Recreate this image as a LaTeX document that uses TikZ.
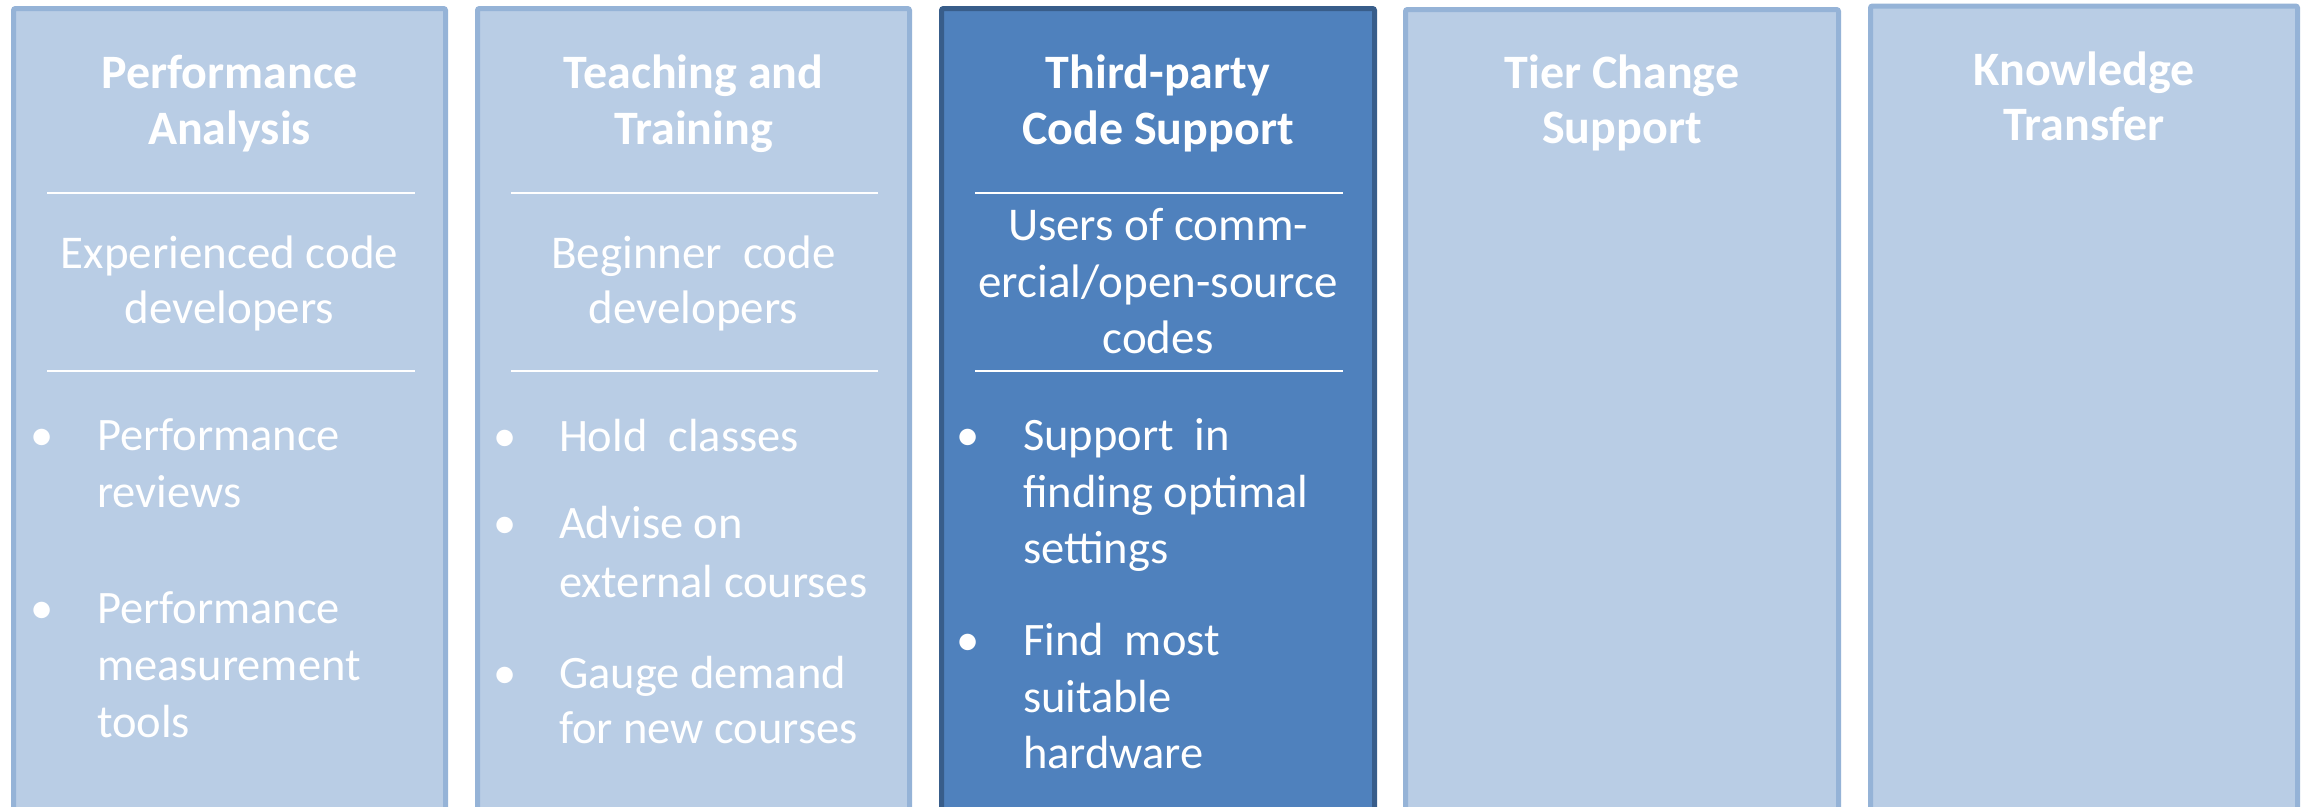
\documentclass[tikz,border=0pt]{standalone}
\usepackage{fontspec}
\setmainfont{Carlito}
\begin{document}
\begin{tikzpicture}[x=1pt,y=-1pt]
\definecolor{fillColor}{RGB}{255,255,255}
\definecolor{paleFill}{RGB}{185,205,229}
\definecolor{paleDraw}{RGB}{149,179,215}
\definecolor{deepFill}{RGB}{79,129,189}
\definecolor{deepDraw}{RGB}{56,93,138}
\tikzset{
  column/.style={line width=5pt,rounded corners=2pt},
  heading/.style={text=white,anchor=base,inner sep=0pt,outer sep=0pt,font=\fontsize{48}{56}\selectfont\bfseries},
  audience/.style={text=white,anchor=base,inner sep=0pt,outer sep=0pt,font=\fontsize{47}{56}\selectfont},
  item/.style={text=white,anchor=base west,inner sep=0pt,outer sep=0pt,font=\fontsize{46.5}{56}\selectfont},
  dot/.style={item,anchor=base},
  rule/.style={draw=white,line width=2.5pt}
}
\path[use as bounding box,fill=fillColor] (0,0) rectangle (2305,806);
\begin{scope}
\path[clip] (0,0) rectangle (2305,806);

% columns
\path[draw=paleDraw,fill=paleFill,column] (  13.5,  8.5) rectangle ( 445.5,840);
\path[draw=paleDraw,fill=paleFill,column] ( 477.5,  8.5) rectangle ( 909.5,840);
\path[draw=deepDraw,fill=deepFill,column] ( 941.5,  8.5) rectangle (1374.5,840);
\path[draw=paleDraw,fill=paleFill,column] (1405.5,  9.5) rectangle (1838.5,840);
\path[draw=paleDraw,fill=paleFill,column] (1870.5,  6.0) rectangle (2297.5,840);

% separators
\path[rule] (  47,193) -- ( 415,193);
\path[rule] (  47,371) -- ( 415,371);
\path[rule] ( 511,193) -- ( 878,193);
\path[rule] ( 511,371) -- ( 878,371);
\path[rule] ( 975,193) -- (1343,193);
\path[rule] ( 975,371) -- (1343,371);

% Performance Analysis
\node[heading] (pa1) at ( 229.5, 88) {Performance};
\node[heading] (pa2) at ( 229.5,144) {Analysis};
\node[audience] (pu1) at ( 229.5,268) {Experienced code};
\node[audience] (pu2) at ( 229.5,323) {developers};
\node[dot] (pd1) at (  42,450) {•};
\node[item] (pi1) at (  97,450) {Performance};
\node[item] (pi2) at (  97,507) {reviews};
\node[dot] (pd2) at (  42,623) {•};
\node[item] (pi3) at (  97,623) {Performance};
\node[item] (pi4) at (  97,680) {measurement};
\node[item] (pi5) at (  97,737) {tools};

% Teaching and Training
\node[heading] (tt1) at ( 693.5, 88) {Teaching and};
\node[heading] (tt2) at ( 693.5,144) {Training};
\node[audience] (tu1) at ( 693.5,268) {Beginner\ \ code};
\node[audience] (tu2) at ( 693.5,323) {developers};
\node[dot] (td1) at ( 505,451) {•};
\node[item] (ti1) at ( 559,451) {Hold\ \ classes};
\node[dot] (td2) at ( 505,538) {•};
\node[item] (ti2) at ( 559,538) {Advise on};
\node[item] (ti3) at ( 559,597) {external courses};
\node[dot] (td3) at ( 505,688) {•};
\node[item] (ti4) at ( 559,688) {Gauge demand};
\node[item] (ti5) at ( 559,743) {for new courses};

% Third-party Code Support
\node[heading] (cs1) at (1158, 88) {Third-party};
\node[heading] (cs2) at (1158,144) {Code Support};
\node[audience] (cu1) at (1158,240) {Users of comm-};
\node[audience] (cu2) at (1158,297) {ercial/open-source};
\node[audience] (cu3) at (1158,353) {codes};
\node[dot] (cd1) at ( 968,450) {•};
\node[item] (ci1) at (1023,450) {Support\ \ in};
\node[item] (ci2) at (1023,507) {finding optimal};
\node[item] (ci3) at (1023,563) {settings};
\node[dot] (cd2) at ( 968,655) {•};
\node[item] (ci4) at (1023,655) {Find\ \ most};
\node[item] (ci5) at (1023,712) {suitable};
\node[item] (ci6) at (1023,768) {hardware};

% Tier Change Support
\node[heading] (tc1) at (1622, 88) {Tier Change};
\node[heading] (tc2) at (1622,143) {Support};

% Knowledge Transfer
\node[heading] (kt1) at (2084, 85) {Knowledge};
\node[heading] (kt2) at (2084,140) {Transfer};
\end{scope}
\end{tikzpicture}
\end{document}
